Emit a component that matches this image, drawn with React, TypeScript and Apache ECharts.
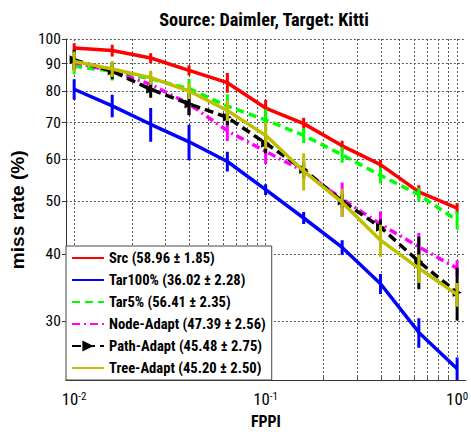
import React, { useEffect, useRef } from 'react';
import * as echarts from 'echarts';

// FPPI positions of the curve points
const fppi = [0.01, 0.0158, 0.0251, 0.0398, 0.0631, 0.1, 0.158, 0.251, 0.398, 0.631, 1.0];

// miss rate (%) values and error half-widths
const src = [96.2, 95.2, 92.2, 87.5, 83.0, 74.5, 69.7, 63.4, 58.5, 52.1, 48.6];
const srcErr = [2.0, 2.4, 1.9, 1.9, 3.5, 2.7, 1.8, 1.4, 1.2, 1.5, 1.1];
const tar100 = [80.7, 75.2, 69.5, 64.5, 59.3, 52.6, 46.6, 41.1, 35.2, 28.6, 24.5];
const tar100Err = [3.5, 3.6, 5.0, 4.9, 2.5, 1.2, 1.2, 1.3, 1.5, 1.8, 1.2];
const tar5 = [89.0, 87.2, 84.4, 80.9, 75.1, 70.8, 66.3, 61.0, 55.9, 51.5, 46.1];
const tar5Err = [3.0, 3.4, 2.5, 3.5, 3.9, 3.3, 2.1, 2.0, 1.9, 1.5, 1.8];
const nodeAdapt = [90.4, 87.2, 82.4, 75.8, 67.6, 61.9, 56.9, 50.5, 45.4, 41.2, 37.6];
const nodeErr = [1.9, 2.2, 2.8, 3.3, 2.9, 3.2, 1.9, 3.7, 2.5, 2.5, 1.3];
const pathAdapt = [91.5, 87.2, 80.7, 75.8, 71.6, 64.1, 57.3, 50.1, 44.8, 38.7, 33.9];
const pathErr = [4.0, 3.0, 2.9, 3.6, 2.4, 2.7, 2.0, 1.5, 1.5, 4.3, 3.8];
const treeAdapt = [90.9, 88.0, 84.8, 80.1, 73.7, 66.3, 56.9, 49.8, 42.4, 37.6, 33.6];
const treeErr = [3.9, 3.0, 2.5, 2.7, 3.2, 3.7, 4.5, 3.0, 2.9, 2.3, 1.7];

const names = [
  'Src (58.96 ± 1.85)',
  'Tar100% (36.02 ± 2.28)',
  'Tar5% (56.41 ± 2.35)',
  'Node-Adapt (47.39 ± 2.56)',
  'Path-Adapt (45.48 ± 2.75)',
  'Tree-Adapt (45.20 ± 2.50)',
];

// axis ticks
const yTicks = [30, 40, 50, 60, 70, 80, 90, 100];
const xGridTicks = [
  0.01, 0.02, 0.03, 0.04, 0.05, 0.06, 0.07, 0.08, 0.09,
  0.1, 0.2, 0.3, 0.4, 0.5, 0.6, 0.7, 0.8, 0.9, 1.0,
];
const xLabelTicks = [0.01, 0.1, 1.0];
const xMin = 0.00905;
const xMax = 1.111;
const yMin = 23.3;
const yMax = 100;

const title = 'Source: Daimler, Target: Kitti';
const xName = 'FPPI';
const yName = 'miss rate (%)';

function hasFont(name: string): boolean {
  try {
    const c = document.createElement('canvas').getContext('2d');
    if (!c) return false;
    const t = 'Src (58.96 ± 1.85) Path-Adapt';
    c.font = `bold 16px '${name}', monospace`;
    const w1 = c.measureText(t).width;
    c.font = 'bold 16px monospace';
    const w2 = c.measureText(t).width;
    return Math.abs(w1 - w2) > 1;
  } catch (e) {
    return false;
  }
}

// font size that makes `text` as wide as `target` px
function fitSize(text: string, weight: string, family: string, target: number, fallback: number): number {
  try {
    const c = document.createElement('canvas').getContext('2d');
    if (!c) return fallback;
    c.font = `${weight} 100px ${family}`;
    const w = c.measureText(text).width;
    if (!(w > 0)) return fallback;
    return Math.round((100 * target / w) * 10) / 10;
  } catch (e) {
    return fallback;
  }
}

export default function App() {
  const ref = useRef<HTMLDivElement>(null);
  useEffect(() => {
    if (!ref.current) return;
    const chart = echarts.init(ref.current, undefined, { renderer: 'svg' });
    const cond = hasFont('Roboto Condensed');
    const NF = cond ? "'Roboto Condensed', 'Liberation Sans', sans-serif" : "'Liberation Sans', sans-serif";
    const WF = "'Liberation Sans', sans-serif";
    const titleSize = fitSize(title, 'bold', NF, 210, 15);
    const legendSize = fitSize(names[3], 'bold', NF, 157, 13);
    const yTickSize = fitSize('100', 'normal', NF, 23, 14);
    const xTickSize = fitSize('10', 'normal', NF, 16.6, 15);
    const xNameSize = fitSize(xName, 'bold', NF, 30, 14);
    const yNameSize = fitSize(yName, 'bold', WF, 119, 19);
    const L = Math.log10;

    const defs = [
      { vals: src, errs: srcErr, color: '#ff0000', type: 'solid' as any, symbol: 'none' },
      { vals: tar100, errs: tar100Err, color: '#0000ff', type: 'solid' as any, symbol: 'none' },
      { vals: tar5, errs: tar5Err, color: '#00ff00', type: [8, 5] as any, symbol: 'none' },
      { vals: nodeAdapt, errs: nodeErr, color: '#ff00ff', type: [8, 4, 2, 4] as any, symbol: 'none' },
      { vals: pathAdapt, errs: pathErr, color: '#000000', type: [9, 5] as any, symbol: 'triangle' },
      { vals: treeAdapt, errs: treeErr, color: '#bfbf00', type: 'solid' as any, symbol: 'none' },
    ];

    const series: any[] = [];
    defs.forEach((d, idx) => {
      series.push({
        type: 'line',
        name: names[idx],
        data: fppi.map((f, i) => [L(f), L(d.vals[i])]),
        symbol: d.symbol,
        symbolSize: 9,
        symbolRotate: -90,
        showSymbol: d.symbol !== 'none',
        lineStyle: { color: d.color, width: 3.5, type: d.type },
        itemStyle: { color: d.color },
        z: 2 + idx,
      });
      series.push({
        type: 'custom',
        name: 'err' + idx,
        clip: true,
        z: 2 + idx,
        data: fppi.map((f, i) => [L(f), L(d.vals[i] - d.errs[i]), L(d.vals[i] + d.errs[i])]),
        encode: { x: 0, y: [1, 2] },
        renderItem: (params: any, api: any) => {
          const x = api.value(0);
          const p1 = api.coord([x, api.value(1)]);
          const p2 = api.coord([x, api.value(2)]);
          return {
            type: 'line',
            shape: { x1: p1[0], y1: p1[1], x2: p2[0], y2: p2[1] },
            style: { stroke: d.color, lineWidth: 3 },
          };
        },
      });
    });

    const gridLine = { show: true, lineStyle: { color: '#555', width: 1, type: [2, 2] as any } };
    const hidden = { color: 'rgba(0,0,0,0)', borderColor: 'rgba(0,0,0,0)', borderWidth: 0, opacity: 0 };

    chart.setOption({
      animation: false,
      backgroundColor: '#ffffff',
      grid: { left: 60.5, right: 0, top: 39, bottom: 48.3, containLabel: false },
      graphic: [
        {
          type: 'text',
          x: 264,
          y: 19,
          style: {
            text: title,
            fontFamily: NF,
            fontWeight: 'bold',
            fontSize: titleSize,
            fill: '#000',
            textAlign: 'center',
            textVerticalAlign: 'middle',
            align: 'center',
            verticalAlign: 'middle',
          },
        },
      ],
      xAxis: {
        type: 'value',
        min: L(xMin),
        max: L(xMax),
        name: xName,
        nameLocation: 'middle',
        nameGap: 40.5,
        nameTextStyle: { fontFamily: NF, fontWeight: 'bold', fontSize: xNameSize, color: '#000', verticalAlign: 'middle' },
        axisLine: { show: true, onZero: false, lineStyle: { color: '#333', width: 1 } },
        axisTick: {
          show: true,
          inside: true,
          length: 4,
          customValues: xGridTicks.map(L),
          lineStyle: { color: '#555' },
        },
        axisLabel: {
          customValues: xLabelTicks.map(L),
          margin: 10,
          formatter: (v: number) => `{b|10}{s|${Math.round(v)}}`,
          rich: {
            b: { fontFamily: NF, fontSize: xTickSize, color: '#000' },
            s: { fontFamily: NF, fontSize: Math.round(xTickSize * 0.66), color: '#000', verticalAlign: 'top' },
          },
        },
        splitLine: gridLine,
      },
      yAxis: {
        type: 'value',
        min: L(yMin),
        max: L(yMax),
        name: yName,
        nameLocation: 'middle',
        nameGap: 44,
        nameTextStyle: { fontFamily: WF, fontWeight: 'bold', fontSize: yNameSize, color: '#000', verticalAlign: 'middle' },
        axisLine: { show: true, onZero: false, lineStyle: { color: '#333', width: 1 } },
        axisTick: {
          show: true,
          inside: false,
          length: 4,
          customValues: yTicks.map(L),
          lineStyle: { color: '#333' },
        },
        axisLabel: {
          customValues: yTicks.map(L),
          margin: 5,
          fontFamily: NF,
          fontSize: yTickSize,
          color: '#000',
          formatter: (v: number) => String(Math.round(Math.pow(10, v))),
        },
        splitLine: gridLine,
      },
      legend: {
        data: names.map((n, i) => (i === 4 ? { name: n } : { name: n, itemStyle: hidden })),
        orient: 'vertical',
        left: 66,
        top: 246,
        itemWidth: 32,
        itemHeight: 14,
        itemGap: 6,
        padding: [4, 6, 4, 5],
        backgroundColor: '#ffffff',
        borderColor: '#444',
        borderWidth: 1,
        borderRadius: 0,
        selectedMode: false,
        textStyle: { fontFamily: NF, fontWeight: 'bold', fontSize: legendSize, lineHeight: 16, color: '#000' },
      },
      series,
    });
    return () => chart.dispose();
  }, []);
  return <div ref={ref} style={{ position: 'absolute', left: 0, top: 0, width: 471, height: 434 }} />;
}
